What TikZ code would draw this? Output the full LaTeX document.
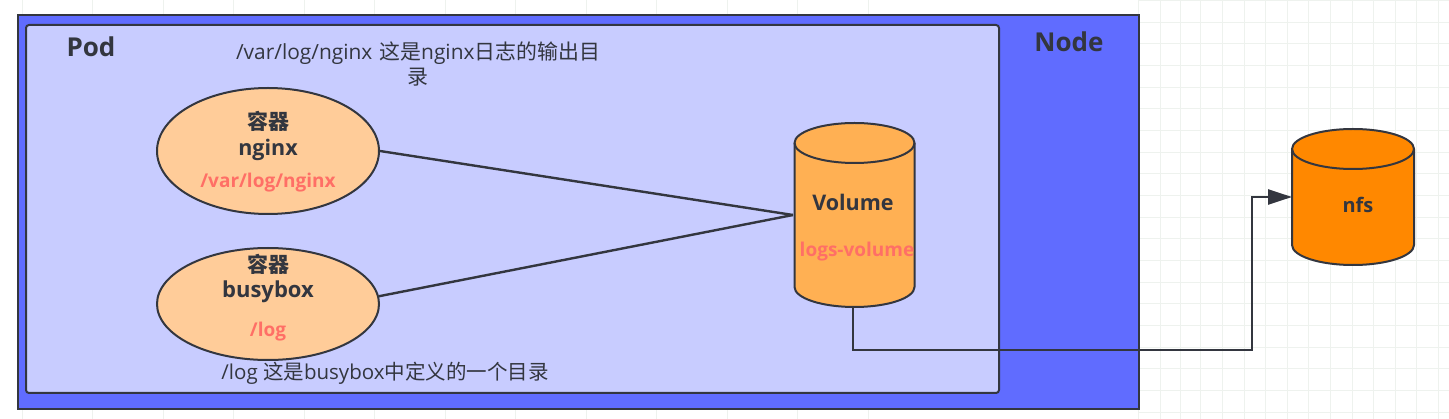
\documentclass[tikz,border=0pt]{standalone}
\usepackage{fontspec}
\setmainfont{Open Sans}
\newfontfamily\cjk{Noto Sans CJK SC}
\usetikzlibrary{shapes.geometric,arrows.meta}
\definecolor{nodeblue}{HTML}{606CFF}
\definecolor{podblue}{HTML}{C8CCFF}
\definecolor{ellfill}{HTML}{FFCC99}
\definecolor{volfill}{HTML}{FFB053}
\definecolor{nfsfill}{HTML}{FF8800}
\definecolor{lineink}{HTML}{33363F}
\definecolor{redtext}{HTML}{FF6F66}
\definecolor{gridc}{HTML}{EEF2EE}
\newcommand{\drum}[6]{% name, centre x, top y, bottom y, half width, fill
  \node[minimum width=#5*2pt,minimum height=#4pt-#3pt,inner sep=0pt,outer sep=0pt] (#1) at (#2,{(#3+#4)/2}) {};
  \draw[drumline,fill=#6] (#2-#5,#3+20) -- (#2-#5,#4-20)
     arc[start angle=180,end angle=0,x radius=#5,y radius=20]
     -- (#2+#5,#3+20)
     arc[start angle=0,end angle=-180,x radius=#5,y radius=20] -- cycle;
  \draw[drumline] (#2-#5,#3+20) arc[start angle=180,end angle=0,x radius=#5,y radius=20];
}
\tikzset{
  x=1pt,y=-1pt,
  box/.style={draw=lineink,line width=2pt,inner sep=0pt,anchor=north west},
  ell/.style={ellipse,draw=lineink,line width=2pt,fill=ellfill,inner sep=0pt},
  drumline/.style={draw=lineink,line width=2pt},
  label/.style={text=lineink,inner sep=0pt},
  red/.style={text=redtext,inner sep=0pt},
  conn/.style={draw=lineink,line width=2.4pt},
}
\begin{document}
\begin{tikzpicture}
\useasboundingbox (0,0) rectangle (1449,419);
\fill[white] (0,0) rectangle (1449,419);
% faint background grid
\foreach \x in {22,92,163,233,304,374,445,515,586,656,727,797,868,1138,1160,1180,1200,1222,1244,1265,1287,1308,1330,1352,1373,1395,1416,1438}
  \draw[gridc,line width=0.6pt] (\x,0) -- (\x,419);
\foreach \y in {0,22,43,65,87,108,130,152,173,195,217,238,260,282,303,325,347,368,390,412}
  \draw[gridc,line width=0.6pt] (1138,\y) -- (1449,\y);
\node[box,fill=nodeblue,minimum width=1121pt,minimum height=394pt] (nodebox) at (17,14) {};
\node[box,fill=podblue,rounded corners=3pt,minimum width=973pt,minimum height=368pt] (podbox) at (25,24) {};
\node[label,font=\fontsize{26}{30}\selectfont\bfseries,anchor=center] (nodelabel) at (1069,42) {Node};
\node[label,font=\fontsize{26}{30}\selectfont\bfseries,anchor=center] (podlabel) at (91,47) {Pod};
\node[label,anchor=center,align=center,text width=400pt,font=\fontsize{20.9}{25}\selectfont] (note1) at (418,64) {/var/log/nginx {\cjk 这是}nginx{\cjk 日志的输出目}\\{\cjk 录}};
\node[label,anchor=center,font=\fontsize{20.5}{24}\selectfont] (note2) at (385,373) {/log {\cjk 这是}busybox{\cjk 中定义的一个目录}};
\node[ell,minimum width=222pt,minimum height=126pt] (nginx) at (268,151) {};
\node[ell,minimum width=222pt,minimum height=112pt] (busybox) at (268,304) {};
\node[label,font=\fontsize{21}{24}\selectfont\cjk\bfseries] (t1a) at (268,121) {容器};
\node[label,font=\fontsize{21.5}{24}\selectfont\bfseries] (t1b) at (268,150) {nginx};
\node[red,font=\fontsize{19}{22}\selectfont\bfseries] (t1c) at (268,183) {/var/log/nginx};
\node[label,font=\fontsize{21}{24}\selectfont\cjk\bfseries] (t2a) at (268,264) {容器};
\node[label,font=\fontsize{22}{24}\selectfont\bfseries] (t2b) at (268,292) {busybox};
\node[red,font=\fontsize{19}{22}\selectfont\bfseries] (t2c) at (268,332) {/log};
\drum{volume}{854.5}{123}{307}{60}{volfill}
\drum{nfs}{1353}{129}{265}{61}{nfsfill}
\node[label,font=\fontsize{21.5}{24}\selectfont\bfseries] (t3a) at (853,202) {Volume};
\node[red,font=\fontsize{19}{22}\selectfont\bfseries] (t3b) at (857,252) {logs-volume};
\node[label,font=\fontsize{20}{24}\selectfont\bfseries] (t4) at (1358,205) {nfs};
\coordinate (meet) at (793,215);
\coordinate (elbowa) at (853,350);
\coordinate (elbowb) at (1252,350);
\coordinate (elbowc) at (1252,197);
\draw[conn] (nginx.east) -- (meet);
\draw[conn] (busybox.4) -- (meet);
\draw[conn,-{Triangle[length=24pt,width=15pt]}] (853,307) -- (elbowa) -- (elbowb) -- (elbowc) -- (nfs.west);
\end{tikzpicture}
\end{document}
